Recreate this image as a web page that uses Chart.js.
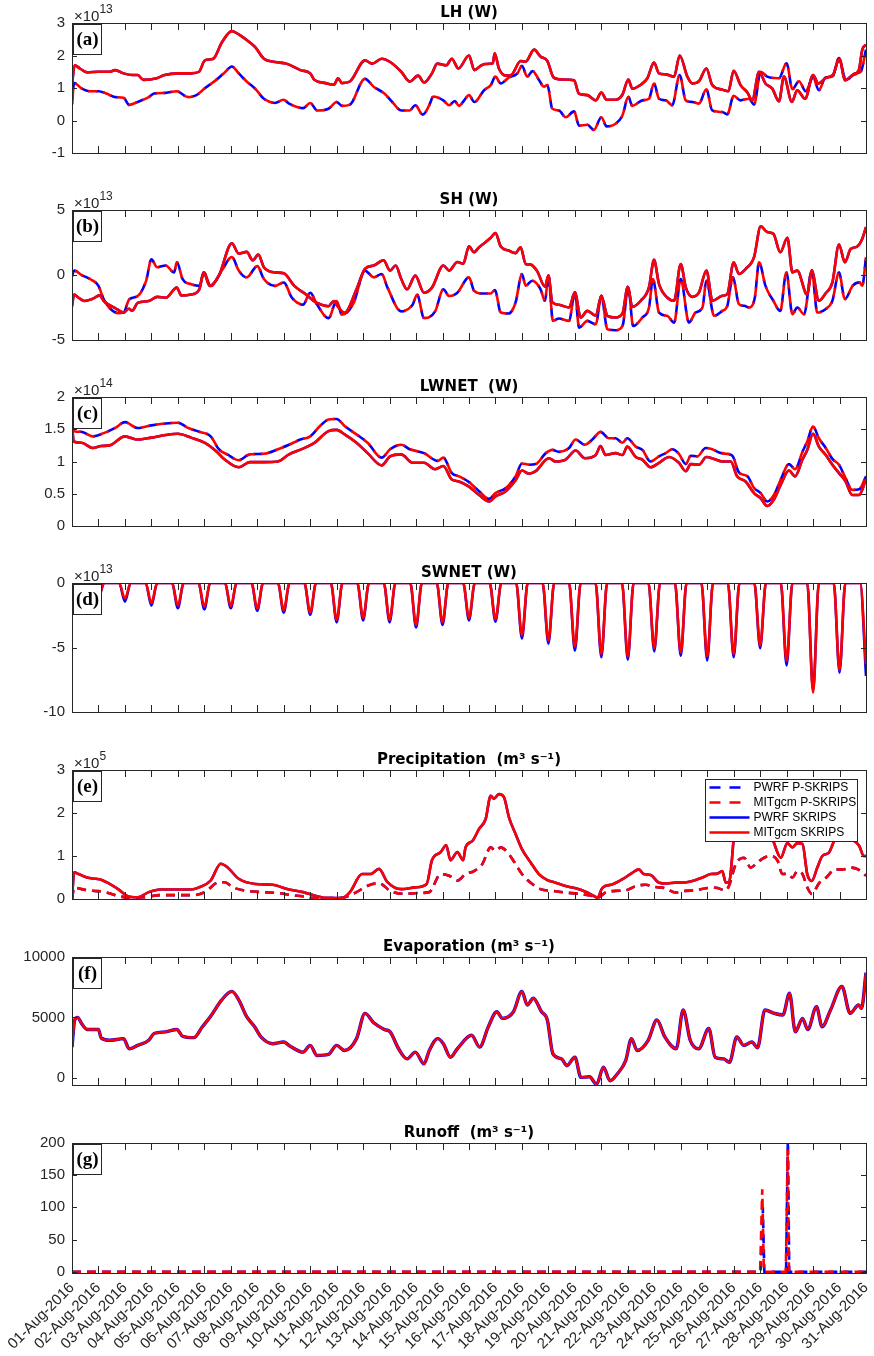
<!DOCTYPE html>
<html lang="en">
<head>
<meta charset="UTF-8">
<title>SKRIPS surface fluxes - August 2016</title>
<script src="https://cdn.jsdelivr.net/npm/chart.js"></script>
<style>
  body { margin: 0; background: #fff; }
  #page { position: relative; width: 874px; height: 1356px; }
  .panel { position: absolute; left: 0; width: 874px; }
</style>
</head>
<body>
<div id="page"></div>
<script>
// time axis: x = days since 01-Aug-2016 00:00
const dayLabels = ['01-Aug-2016','02-Aug-2016','03-Aug-2016','04-Aug-2016','05-Aug-2016','06-Aug-2016',
  '07-Aug-2016','08-Aug-2016','09-Aug-2016','10-Aug-2016','11-Aug-2016','12-Aug-2016','13-Aug-2016',
  '14-Aug-2016','15-Aug-2016','16-Aug-2016','17-Aug-2016','18-Aug-2016','19-Aug-2016','20-Aug-2016',
  '21-Aug-2016','22-Aug-2016','23-Aug-2016','24-Aug-2016','25-Aug-2016','26-Aug-2016','27-Aug-2016',
  '28-Aug-2016','29-Aug-2016','30-Aug-2016','31-Aug-2016'];

const legendNames = ['PWRF P-SKRIPS', 'MITgcm P-SKRIPS', 'PWRF SKRIPS', 'MITgcm SKRIPS'];

// (a) LH, x10^13 W   [day, value]
const lhP = [[0,0.5],[0.08,1.15],[0.36,0.99],[0.68,0.9],[1.0,0.9],[1.3,0.83],[1.63,0.72],[1.95,0.7],[2.16,0.48],[2.48,0.57],[2.9,0.72],[3.1,0.83],[3.54,0.85],[3.96,0.9],[4.39,0.72],[4.7,0.78],[5.02,0.99],[5.45,1.25],[5.77,1.48],[6.04,1.66],[6.3,1.45],[6.6,1.2],[6.93,0.97],[7.25,0.67],[7.67,0.54],[7.99,0.64],[8.2,0.52],[8.73,0.38],[9.0,0.54],[9.26,0.31],[9.69,0.36],[10.0,0.57],[10.2,0.45],[10.5,0.49],[11.07,1.28],[11.4,1.04],[11.8,0.83],[12.1,0.57],[12.44,0.31],[12.76,0.31],[12.97,0.47],[13.25,0.18],[13.5,0.47],[13.65,0.74],[14.03,0.62],[14.25,0.47],[14.46,0.6],[14.62,0.45],[14.8,0.6],[15.0,0.78],[15.2,0.57],[15.57,0.93],[15.82,1.09],[16.0,1.35],[16.2,1.14],[16.5,1.32],[16.83,1.45],[17.0,1.68],[17.2,1.35],[17.4,1.52],[17.65,1.24],[17.83,1.04],[17.96,1.09],[18.15,0.36],[18.4,0.31],[18.65,0.1],[18.97,0.28],[19.16,-0.16],[19.47,-0.13],[19.72,-0.29],[20.0,0.1],[20.2,-0.18],[20.54,-0.1],[20.8,0.16],[21.02,0.73],[21.17,0.45],[21.55,0.62],[21.8,0.67],[21.99,1.14],[22.18,0.67],[22.43,0.62],[22.68,0.47],[22.96,1.4],[23.19,0.62],[23.44,0.57],[23.69,0.52],[23.97,0.96],[24.19,0.31],[24.57,0.26],[24.76,0.19],[25.0,0.76],[25.26,0.62],[25.58,0.67],[25.77,0.49],[26.02,1.5],[26.27,1.35],[26.71,1.3],[27.0,1.76],[27.22,0.96],[27.47,1.21],[27.72,0.9],[28.0,1.32],[28.22,0.93],[28.47,1.32],[28.73,1.35],[28.98,1.92],[29.24,1.24],[29.6,1.45],[29.8,1.5],[30,2.18]];
const lhS = [[0,1.1],[0.1,1.7],[0.3,1.6],[0.57,1.48],[1.0,1.5],[1.42,1.5],[1.63,1.55],[1.95,1.45],[2.27,1.4],[2.48,1.4],[2.7,1.25],[3.2,1.3],[3.5,1.4],[4.0,1.45],[4.5,1.45],[4.8,1.5],[5.02,1.85],[5.34,1.9],[5.66,2.4],[6.04,2.75],[6.3,2.65],[6.72,2.4],[6.93,2.25],[7.25,1.9],[7.67,1.8],[8.1,1.75],[8.63,1.55],[9.0,1.45],[9.16,1.25],[9.58,1.15],[9.9,1.1],[10.05,1.3],[10.2,1.15],[10.5,1.2],[11.07,1.85],[11.34,1.75],[11.7,1.9],[12.02,1.8],[12.44,1.5],[12.76,1.2],[13.08,1.38],[13.3,1.17],[13.6,1.45],[13.8,1.75],[14.14,1.7],[14.35,1.9],[14.6,1.6],[15.0,2.0],[15.2,1.55],[15.4,1.66],[15.6,1.74],[15.9,1.76],[15.97,2.07],[16.13,1.6],[16.4,1.38],[16.6,1.4],[16.95,1.83],[17.14,1.81],[17.46,2.18],[17.7,1.97],[17.96,1.83],[18.2,1.32],[18.53,1.26],[18.97,1.24],[19.15,0.83],[19.47,0.78],[19.79,0.62],[20.0,0.86],[20.2,0.64],[20.54,0.64],[20.8,0.8],[21.02,1.26],[21.17,0.98],[21.49,1.1],[21.74,1.3],[21.99,1.78],[22.18,1.45],[22.43,1.42],[22.75,1.35],[22.96,2.0],[23.25,1.35],[23.44,1.14],[23.69,1.21],[23.97,1.6],[24.19,1.09],[24.57,0.95],[24.8,0.9],[25.0,1.53],[25.26,1.09],[25.52,0.86],[25.7,0.62],[25.96,1.5],[26.2,1.14],[26.46,0.98],[26.71,0.59],[26.9,1.35],[27.2,0.57],[27.4,0.93],[27.7,0.67],[28.0,1.4],[28.2,1.14],[28.5,1.32],[28.75,1.4],[29.0,1.9],[29.2,1.24],[29.5,1.4],[29.73,1.55],[29.86,2.18],[30,2.33]];

// (b) SH, x10^13 W
const shP = [[0,-0.1],[0.08,0.34],[0.36,0],[0.68,-0.31],[1.0,-0.84],[1.2,-1.88],[1.42,-2.54],[1.74,-2.93],[1.95,-2.88],[2.16,-1.88],[2.48,-1.62],[2.8,-0.45],[3.0,1.2],[3.22,0.6],[3.54,0.73],[3.86,0.2],[3.96,1.0],[4.18,-0.31],[4.5,-0.71],[4.81,-0.84],[4.98,0.2],[5.24,-0.84],[5.66,0.34],[6.04,1.39],[6.3,0.34],[6.6,-0.18],[7.0,0.68],[7.25,-0.31],[7.67,-0.84],[8.0,-0.58],[8.31,-1.75],[8.73,-2.28],[9.0,-1.36],[9.26,-2.28],[9.69,-3.32],[10.0,-2.0],[10.2,-3.06],[10.64,-2.15],[11.07,0.34],[11.4,-0.18],[11.7,0.08],[11.92,-0.97],[12.44,-2.8],[12.87,-2.28],[13.04,-1.5],[13.3,-3.32],[13.72,-2.8],[14.03,-1.1],[14.25,-1.62],[14.56,-1.36],[15.0,-0.18],[15.19,-1.21],[15.5,-1.42],[15.82,-1.42],[15.98,-1.16],[16.2,-2.89],[16.5,-2.96],[16.76,-2.11],[17.0,0.08],[17.14,-0.82],[17.39,-0.44],[17.7,-1.08],[17.87,-1.98],[18.0,-0.05],[18.17,-3.53],[18.4,-3.35],[18.78,-3.53],[19.0,-1.34],[19.16,-4.05],[19.47,-3.53],[19.79,-3.79],[20.0,-1.6],[20.23,-4.18],[20.54,-4.25],[20.8,-3.92],[21.02,-0.95],[21.2,-3.92],[21.55,-3.27],[21.8,-2.5],[21.95,-0.31],[22.18,-2.89],[22.49,-3.14],[22.75,-3.66],[23.0,-0.31],[23.31,-3.66],[23.56,-2.89],[23.82,-2.5],[23.97,-0.44],[24.26,-3.14],[24.57,-2.76],[24.76,-2.37],[24.97,-0.18],[25.2,-2.24],[25.4,-2.37],[25.58,-2.5],[25.8,-1.73],[25.96,0.98],[26.2,-0.82],[26.5,-1.98],[26.76,-2.76],[26.99,0.2],[27.22,-3.02],[27.4,-2.5],[27.66,-3.02],[27.95,0.34],[28.16,-2.89],[28.47,-2.63],[28.73,-1.98],[28.98,0.2],[29.2,-1.86],[29.5,-0.82],[29.75,-0.57],[29.86,-0.82],[30,1.37]];
const shS = [[0,-2.4],[0.08,-1.5],[0.25,-1.75],[0.47,-2.0],[0.78,-1.83],[1.04,-1.57],[1.2,-2.0],[1.63,-2.54],[1.95,-2.88],[2.15,-2.6],[2.27,-2.75],[2.48,-2.15],[2.9,-2.0],[3.22,-1.68],[3.54,-1.75],[3.96,-0.97],[4.13,-1.57],[4.5,-1.5],[4.81,-1.1],[4.98,0.2],[5.2,-0.84],[5.55,-0.05],[6.04,2.43],[6.3,1.65],[6.6,1.78],[6.83,1.13],[7.04,1.57],[7.25,0.6],[7.67,0.2],[8.0,0.13],[8.4,-0.84],[8.84,-1.5],[9.26,-2.15],[9.69,-2.4],[9.9,-2.0],[10.0,-2.3],[10.3,-2.9],[10.75,-1.1],[11.07,0.47],[11.4,0.73],[11.77,1.13],[12.02,0.34],[12.23,0.73],[12.44,-0.31],[12.66,-1.1],[12.97,-0.05],[13.3,-1.36],[13.6,-0.97],[14.03,0.73],[14.25,0.34],[14.56,1.0],[14.78,0.86],[15.0,2.2],[15.19,1.75],[15.38,2.14],[15.63,2.53],[15.82,2.86],[16.0,3.22],[16.2,2.19],[16.5,1.88],[16.76,1.68],[16.95,2.14],[17.14,0.85],[17.33,0.8],[17.58,0.28],[17.87,-0.9],[18.0,-0.05],[18.15,-2.11],[18.4,-2.29],[18.78,-2.5],[19.0,-1.34],[19.22,-3.27],[19.47,-2.76],[19.79,-3.14],[20.0,-1.6],[20.23,-3.14],[20.54,-3.27],[20.8,-2.96],[21.0,-0.9],[21.17,-2.45],[21.49,-1.98],[21.8,-0.95],[21.99,1.16],[22.18,-0.7],[22.49,-1.73],[22.75,-1.98],[23.0,0.85],[23.19,-0.95],[23.44,-1.68],[23.69,-1.34],[23.97,0.34],[24.2,-1.98],[24.57,-1.6],[24.76,-1.47],[25.0,0.98],[25.2,0.08],[25.45,0.46],[25.77,1.37],[26.02,3.74],[26.27,3.3],[26.5,3.17],[26.76,1.75],[27.03,2.86],[27.22,0.2],[27.4,0.34],[27.78,-1.52],[27.95,0.34],[28.22,-1.98],[28.47,-1.42],[28.73,-0.57],[28.98,2.35],[29.2,0.98],[29.42,2.0],[29.67,2.19],[29.86,2.78],[30,3.69]];

// (c) LWNET, x10^14 W
const lwP = [[0,1.62],[0.08,1.47],[0.36,1.46],[0.78,1.39],[1.2,1.44],[1.63,1.52],[2.0,1.61],[2.48,1.52],[3.0,1.56],[3.54,1.59],[4.0,1.6],[4.39,1.52],[4.81,1.46],[5.24,1.39],[5.55,1.19],[5.87,1.11],[6.3,1.02],[6.72,1.11],[7.25,1.12],[7.78,1.19],[8.2,1.26],[8.63,1.34],[9.0,1.39],[9.37,1.55],[9.69,1.65],[10.0,1.66],[10.3,1.55],[10.75,1.42],[11.17,1.29],[11.7,1.06],[12.02,1.19],[12.44,1.26],[12.76,1.19],[13.3,1.13],[13.82,1.01],[14.03,1.06],[14.35,0.82],[14.62,0.77],[15.0,0.68],[15.38,0.54],[15.76,0.42],[16.0,0.51],[16.39,0.59],[16.76,0.77],[17.0,0.97],[17.27,0.95],[17.52,0.96],[17.9,1.13],[18.15,1.18],[18.4,1.15],[18.78,1.21],[19.03,1.34],[19.38,1.26],[19.66,1.34],[19.97,1.46],[20.29,1.36],[20.54,1.36],[20.8,1.29],[20.98,1.36],[21.3,1.23],[21.55,1.18],[21.86,1.0],[22.18,1.08],[22.43,1.13],[22.68,1.19],[22.93,1.12],[23.19,0.96],[23.38,1.09],[23.63,1.08],[23.94,1.21],[24.19,1.19],[24.45,1.14],[24.7,1.12],[24.95,1.09],[25.2,0.83],[25.52,0.77],[25.77,0.59],[26.02,0.51],[26.27,0.38],[26.52,0.48],[26.78,0.72],[27.09,0.96],[27.32,0.88],[27.6,1.15],[27.78,1.31],[28.0,1.54],[28.22,1.36],[28.48,1.21],[28.73,1.04],[28.98,0.95],[29.23,0.74],[29.48,0.56],[29.74,0.57],[30,0.77]];
const lwS = [[0,1.62],[0.06,1.31],[0.36,1.29],[0.78,1.21],[1.1,1.24],[1.42,1.25],[2.0,1.39],[2.48,1.34],[3.0,1.37],[3.54,1.41],[4.0,1.43],[4.5,1.37],[5.02,1.29],[5.45,1.16],[5.77,1.03],[6.3,0.91],[6.72,0.99],[7.25,0.99],[7.78,1.0],[8.2,1.11],[8.73,1.2],[9.16,1.29],[9.69,1.47],[10.0,1.49],[10.3,1.42],[10.75,1.29],[11.17,1.13],[11.7,0.94],[12.02,1.08],[12.44,1.11],[12.87,0.98],[13.3,0.98],[13.72,0.88],[14.03,0.93],[14.35,0.72],[14.62,0.69],[15.0,0.61],[15.38,0.48],[15.76,0.38],[16.0,0.46],[16.39,0.54],[16.76,0.71],[17.0,0.86],[17.27,0.81],[17.52,0.85],[18.02,1.05],[18.27,1.0],[18.65,1.03],[19.03,1.17],[19.38,1.05],[19.79,1.1],[19.97,1.24],[20.16,1.1],[20.54,1.13],[20.8,1.1],[20.98,1.23],[21.3,1.07],[21.55,1.03],[21.86,0.91],[22.18,0.98],[22.56,1.07],[22.93,0.98],[23.19,0.85],[23.38,0.96],[23.69,0.95],[23.97,1.07],[24.26,1.04],[24.57,1.0],[24.89,1.0],[25.13,0.77],[25.45,0.69],[25.77,0.51],[26.02,0.43],[26.27,0.31],[26.52,0.41],[26.78,0.64],[27.09,0.86],[27.32,0.77],[27.6,1.03],[27.78,1.18],[28.0,1.43],[28.22,1.23],[28.48,1.1],[28.73,0.95],[28.98,0.82],[29.23,0.69],[29.48,0.48],[29.74,0.48],[30,0.73]];

// (d) SWNET, x10^13 W: one midday minimum per day, zero at night
const swDays = [1,2,3,4,5,6,7,8,9,10,11,12,13,14,15,16,17,18,19,20,21,22,23,24,25,26,27,28,29,30];
const swMinPWRF = [-1.1,-1.45,-1.75,-1.95,-2.05,-1.95,-2.15,-2.3,-2.45,-3.05,-2.9,-3.05,-3.45,-3.25,-2.9,-3.0,-4.3,-4.7,-5.25,-5.75,-5.95,-5.3,-5.65,-6.0,-5.75,-5.05,-6.4,-8.3,-6.95,-7.2];
const swMinMIT = [-1.0,-1.2,-1.55,-1.75,-1.85,-1.8,-1.95,-2.1,-2.3,-2.85,-2.7,-2.85,-3.25,-3.05,-2.7,-2.8,-4.05,-4.45,-4.95,-5.5,-5.7,-5.05,-5.4,-5.7,-5.5,-4.85,-6.05,-8.5,-6.75,-6.3];
const swStart = -0.6;

// (e) Precipitation, x10^5 m3/s
const prP = [[0,0],[0.08,0.27],[0.36,0.23],[0.78,0.19],[1.2,0.17],[1.63,0.09],[2.16,0.03],[2.7,0.04],[3.33,0.09],[3.96,0.09],[4.6,0.09],[5.02,0.16],[5.55,0.39],[5.77,0.39],[6.08,0.27],[6.6,0.19],[7.14,0.16],[7.78,0.14],[8.3,0.09],[8.73,0.06],[9.16,0.02],[9.9,0.02],[10.3,0.04],[10.75,0.16],[11.17,0.31],[11.6,0.37],[12.02,0.19],[12.55,0.12],[13.08,0.14],[13.5,0.16],[13.93,0.58],[14.25,0.54],[14.56,0.43],[14.87,0.58],[15.19,0.65],[15.5,0.81],[15.82,1.2],[16.0,1.12],[16.2,1.2],[16.51,1.04],[16.76,0.81],[17.0,0.58],[17.33,0.38],[17.7,0.23],[18.15,0.19],[18.65,0.15],[19.16,0.12],[19.66,0.07],[19.85,0.03],[20.16,0.15],[20.54,0.19],[20.92,0.2],[21.3,0.3],[21.67,0.33],[22.05,0.28],[22.43,0.25],[22.8,0.15],[23.19,0.19],[23.56,0.2],[23.94,0.25],[24.32,0.26],[24.7,0.2],[24.82,0.3],[25.08,0.81],[25.39,0.96],[25.64,0.73],[25.9,0.85],[26.15,0.96],[26.4,1.0],[26.66,0.89],[26.84,0.58],[27.03,0.59],[27.22,0.5],[27.41,0.65],[27.6,0.58],[27.79,0.26],[27.95,0.12],[28.24,0.38],[28.5,0.5],[28.82,0.69],[29.13,0.69],[29.45,0.73],[29.7,0.69],[30,0.54]];
const prS = [[0,0],[0.08,0.62],[0.25,0.58],[0.57,0.5],[0.89,0.47],[1.1,0.45],[1.42,0.35],[1.74,0.23],[2.06,0.08],[2.48,0.04],[2.9,0.16],[3.33,0.22],[3.96,0.22],[4.5,0.22],[4.8,0.27],[5.24,0.43],[5.62,0.82],[5.87,0.74],[6.3,0.47],[6.93,0.35],[7.57,0.33],[8.2,0.22],[8.73,0.16],[9.16,0.08],[9.69,0.02],[10.2,0.02],[10.5,0.16],[10.96,0.58],[11.28,0.58],[11.6,0.7],[11.91,0.4],[12.44,0.23],[12.97,0.27],[13.4,0.35],[13.6,0.9],[13.93,1.09],[14.14,1.25],[14.3,0.9],[14.56,1.09],[14.78,0.9],[14.87,1.2],[15.13,1.35],[15.38,1.63],[15.63,1.86],[15.82,2.4],[15.94,2.33],[16.13,2.44],[16.32,2.37],[16.51,1.9],[16.76,1.51],[17.0,1.16],[17.33,0.85],[17.64,0.58],[17.96,0.44],[18.27,0.38],[18.65,0.3],[19.03,0.25],[19.4,0.17],[19.72,0.07],[19.85,0.03],[20.04,0.26],[20.42,0.34],[20.8,0.46],[21.17,0.61],[21.42,0.69],[21.6,0.58],[21.86,0.56],[22.18,0.38],[22.49,0.36],[22.8,0.38],[23.06,0.38],[23.44,0.42],[23.82,0.5],[24.13,0.58],[24.38,0.59],[24.57,0.65],[24.7,0.38],[24.82,0.38],[25.08,1.7],[25.3,1.45],[25.6,1.6],[25.9,1.45],[26.2,1.5],[26.45,1.4],[26.78,0.96],[27.03,1.3],[27.22,1.2],[27.4,1.3],[27.6,1.28],[27.78,0.58],[27.95,0.42],[28.16,0.73],[28.35,1.0],[28.6,1.08],[28.8,1.35],[28.98,1.43],[29.3,1.4],[29.55,1.35],[29.74,1.24],[29.92,1.0],[30,1.0]];

// (f) Evaporation, m3/s (all four runs overlap)
const evap = [[0,2540],[0.1,4775],[0.21,5000],[0.36,4500],[0.57,4000],[1.0,4000],[1.1,3300],[1.42,3100],[1.95,3240],[2.16,2400],[2.48,2680],[2.9,3100],[3.1,3660],[3.54,3800],[3.96,4000],[4.18,3440],[4.6,3320],[4.92,4200],[5.24,5100],[5.66,6450],[6.04,7150],[6.3,6450],[6.6,5060],[6.9,4220],[7.14,3380],[7.57,2820],[8.0,2960],[8.2,2680],[8.73,2120],[9.0,2680],[9.26,1840],[9.69,1930],[10.0,2680],[10.3,2260],[10.75,3240],[11.07,5330],[11.4,4550],[11.8,4000],[12.02,3800],[12.34,2400],[12.66,1560],[12.97,2120],[13.3,1150],[13.5,2260],[13.82,3240],[14.03,2820],[14.3,1700],[14.56,2400],[15.1,3520],[15.4,2540],[15.73,4220],[16.05,5470],[16.26,4920],[16.68,5470],[17.0,7150],[17.2,6030],[17.43,6590],[17.74,5470],[17.96,4780],[18.17,1980],[18.5,1560],[18.7,1000],[19.0,1700],[19.23,30],[19.55,80],[19.82,-530],[20.08,870],[20.33,-250],[20.6,310],[20.92,1420],[21.14,3240],[21.35,2260],[21.77,3100],[22.1,4780],[22.4,3380],[22.83,2400],[23.09,5610],[23.36,3100],[23.68,2400],[24.06,4080],[24.3,1700],[24.62,1560],[24.84,1280],[25.12,3380],[25.38,2680],[25.69,2960],[25.9,2480],[26.18,5610],[26.54,5330],[26.86,5200],[27.11,7000],[27.33,3800],[27.6,4920],[27.8,4000],[28.13,5890],[28.34,4220],[28.66,5610],[29.09,7570],[29.4,5330],[29.72,6030],[29.83,5750],[30,8690]];

// (g) Runoff, m3/s (P-SKRIPS only)
const roPWRF = [[0,0],[26.02,0],[26.1,100],[26.16,0],[26.98,0],[27.05,215],[27.1,0],[30,0]];
const roMIT = [[0,0],[26.0,0],[26.08,128],[26.14,0],[26.97,0],[27.04,190],[27.09,0],[30,0]];

const BLUE = '#0000ff', RED = '#ff0000', INK = '#262626';
const DASH = [9, 6];

function pts(arr) { return arr.map(p => ({ x: p[0], y: p[1] })); }

function line(data, color, opts) {
  return Object.assign({
    data: pts(data), borderColor: color, borderWidth: 2.6, pointRadius: 0,
    fill: false, cubicInterpolationMode: 'monotone'
  }, opts || {});
}

function swSeries(mins) {
  const out = [[0, swStart], [0.2, 0]];
  swDays.forEach((d, i) => {
    out.push([d - 0.22, 0], [d, mins[i]]);
    if (d + 0.22 <= 30) out.push([d + 0.22, 0]);
  });
  return out;
}

// four runs: dashed P-SKRIPS pair, solid SKRIPS pair (red drawn over blue)
function fourRuns(p, s, shift) {
  return [
    line(p, BLUE, { borderDash: DASH, order: 4 }),
    line(p, RED, { borderDash: DASH, borderDashOffset: shift, order: 3 }),
    line(s, BLUE, { order: 2 }),
    line(s, RED, { order: 1 })
  ];
}

const panels = [
  { key: 'a', title: 'LH (W)', exp: '13', top: 23, bottom: 153, min: -1, max: 3, ticks: [-1, 0, 1, 2, 3],
    datasets: fourRuns(lhP, lhS, 7.5) },
  { key: 'b', title: 'SH (W)', exp: '13', top: 210, bottom: 340, min: -5, max: 5, ticks: [-5, 0, 5],
    datasets: fourRuns(shP, shS, 7.5) },
  { key: 'c', title: 'LWNET  (W)', exp: '14', top: 397, bottom: 526, min: 0, max: 2, ticks: [0, 0.5, 1, 1.5, 2],
    datasets: fourRuns(lwP, lwS, 7.5) },
  { key: 'd', title: 'SWNET (W)', exp: '13', top: 583, bottom: 712, min: -10, max: 0, ticks: [-10, -5, 0],
    datasets: [line(swSeries(swMinPWRF), BLUE, { order: 2 }), line(swSeries(swMinMIT), RED, { order: 1 })] },
  { key: 'e', title: 'Precipitation  (m\u00b3 s\u207b\u00b9)', exp: '5', top: 770, bottom: 899, min: 0, max: 3, ticks: [0, 1, 2, 3],
    legend: true, datasets: fourRuns(prP, prS, 0) },
  { key: 'f', title: 'Evaporation (m\u00b3 s\u207b\u00b9)', exp: '', top: 957, bottom: 1085, min: -600, max: 10000, ticks: [0, 5000, 10000],
    datasets: [line(evap, BLUE, { borderWidth: 3.4, order: 2 }), line(evap, RED, { borderWidth: 2.4, order: 1 })] },
  { key: 'g', title: 'Runoff  (m\u00b3 s\u207b\u00b9)', exp: '', top: 1143, bottom: 1273, min: -2, max: 200, ticks: [0, 50, 100, 150, 200],
    datasets: [line(roPWRF, BLUE, { borderDash: DASH, tension: 0, cubicInterpolationMode: 'default', order: 2 }),
               line(roMIT, RED, { borderDash: DASH, tension: 0, cubicInterpolationMode: 'default', order: 1 })] }
];

// box, inward ticks, title, x10^n note, panel letter and the legend
const panelDeco = {
  id: 'panelDeco',
  afterDraw(chart, args, o) {
    const { ctx, chartArea: a, scales } = chart;
    ctx.save();
    ctx.strokeStyle = INK;
    ctx.lineWidth = 1;
    ctx.beginPath();
    for (let k = 1; k < dayLabels.length - 1; k++) {
      const x = Math.round(scales.x.getPixelForValue(k)) + 0.5;
      ctx.moveTo(x, a.top); ctx.lineTo(x, a.top + 7);
      ctx.moveTo(x, a.bottom); ctx.lineTo(x, a.bottom - 7);
    }
    o.ticks.forEach(v => {
      const y = Math.round(scales.y.getPixelForValue(v)) + 0.5;
      ctx.moveTo(a.left, y); ctx.lineTo(a.left + 5, y);
      ctx.moveTo(a.right, y); ctx.lineTo(a.right - 5, y);
    });
    ctx.stroke();
    ctx.strokeRect(Math.round(a.left) + 0.5, Math.round(a.top) + 0.5,
                   Math.round(a.right - a.left), Math.round(a.bottom - a.top));

    // title
    ctx.fillStyle = '#000';
    ctx.font = 'bold 15px "DejaVu Sans", sans-serif';
    ctx.textAlign = 'center';
    ctx.textBaseline = 'alphabetic';
    ctx.fillText(o.title, (a.left + a.right) / 2, a.top - 6);

    // exponent
    if (o.exp) {
      ctx.fillStyle = INK;
      ctx.textAlign = 'left';
      ctx.font = '15px "Liberation Sans", sans-serif';
      ctx.fillText('\u00d710', a.left + 2, a.top - 2);
      const w = ctx.measureText('\u00d710').width;
      ctx.font = '12px "Liberation Sans", sans-serif';
      ctx.fillText(o.exp, a.left + 2 + w, a.top - 10);
    }

    // panel letter
    ctx.fillStyle = '#fff';
    ctx.fillRect(a.left + 1, a.top + 1, 28, 30);
    ctx.strokeStyle = INK;
    ctx.strokeRect(Math.round(a.left) + 1.5, Math.round(a.top) + 1.5, 28, 30);
    ctx.fillStyle = '#000';
    ctx.font = 'bold 19px "Liberation Serif", serif';
    ctx.textAlign = 'center';
    ctx.textBaseline = 'middle';
    ctx.fillText('(' + o.key + ')', a.left + 15.5, a.top + 17);

    if (o.legend) {
      const lx = Math.round(a.right) - 160.5, ly = Math.round(a.top) + 9.5, lw = 152, lh = 62;
      ctx.fillStyle = '#fff';
      ctx.fillRect(lx, ly, lw, lh);
      ctx.strokeStyle = INK;
      ctx.lineWidth = 1;
      ctx.strokeRect(lx, ly, lw, lh);
      ctx.font = '12px "Liberation Sans", sans-serif';
      ctx.textAlign = 'left';
      ctx.textBaseline = 'middle';
      legendNames.forEach((name, i) => {
        const y = ly + 8 + i * 15;
        ctx.save();
        ctx.strokeStyle = i % 2 === 0 ? BLUE : RED;
        ctx.lineWidth = 2.6;
        ctx.setLineDash(i < 2 ? [11, 9] : []);
        ctx.beginPath();
        ctx.moveTo(lx + 4, y); ctx.lineTo(lx + 44, y);
        ctx.stroke();
        ctx.restore();
        ctx.fillStyle = '#000';
        ctx.fillText(name, lx + 48, y + 0.5);
      });
    }
    ctx.restore();
  }
};

const page = document.getElementById('page');
const tickFont = { family: '"Liberation Sans", Arial, sans-serif', size: 15 };
const PAD_TOP = 45;

panels.forEach((p, i) => {
  const last = i === panels.length - 1;
  const extra = last ? 83 : 4;
  const h = PAD_TOP + (p.bottom - p.top) + extra;
  const div = document.createElement('div');
  div.className = 'panel';
  div.style.top = (p.top - PAD_TOP) + 'px';
  div.style.height = h + 'px';
  const cv = document.createElement('canvas');
  cv.width = 874;
  cv.height = h;
  div.appendChild(cv);
  page.appendChild(div);

  new Chart(cv, {
    type: 'line',
    data: { datasets: p.datasets },
    plugins: [panelDeco],
    options: {
      responsive: false,
      animation: false,
      parsing: false,
      layout: { padding: { left: 0, right: 8, top: PAD_TOP, bottom: last ? 0 : extra } },
      plugins: {
        legend: { display: false },
        tooltip: { enabled: false },
        panelDeco: { key: p.key, title: p.title, exp: p.exp, ticks: p.ticks, legend: !!p.legend }
      },
      scales: {
        x: {
          type: 'linear', min: 0, max: 30, display: last,
          afterBuildTicks: s => { s.ticks = dayLabels.map((_, k) => ({ value: k })); },
          afterFit: s => { s.height = last ? extra : 0; s.paddingLeft = 0; s.paddingRight = 0; },
          grid: { display: false, drawTicks: false },
          border: { display: false },
          ticks: {
            autoSkip: false, minRotation: 45, maxRotation: 45, padding: 6,
            color: INK, font: tickFont,
            callback: v => dayLabels[v]
          }
        },
        y: {
          type: 'linear', min: p.min, max: p.max,
          afterBuildTicks: s => { s.ticks = p.ticks.map(v => ({ value: v })); },
          afterFit: s => { s.width = 72; s.paddingTop = 0; s.paddingBottom = 0; },
          grid: { display: false, drawTicks: false },
          border: { display: false },
          ticks: { padding: 7, color: INK, font: tickFont, callback: v => String(v) }
        }
      }
    }
  });
});
</script>
</body>
</html>
